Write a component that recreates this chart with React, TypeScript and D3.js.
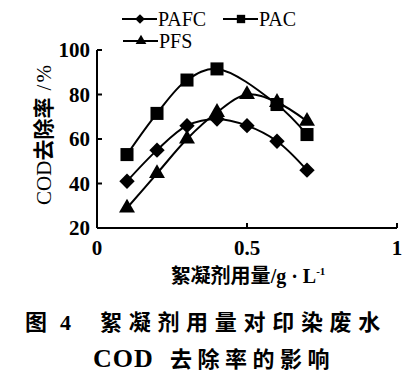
import * as d3 from 'd3';
import { useRef, useEffect } from 'react';

const doses = [0.1, 0.2, 0.3, 0.4, 0.5, 0.6, 0.7];
const pafc = [41, 55, 66, 69, 66, 59, 46];
const pac = [53, 71.5, 86.5, 91.5, null, 75.5, 62];
const pfs = [29, 44.5, 60, 72, 80, 76.5, 68];
const xTicks = [0, 0.5, 1];
const xTickLabels = ['0', '0.5', '1'];
const yTicks = [20, 40, 60, 80, 100];

const serif = '"Liberation Serif", "DejaVu Serif", serif';
const cjk = '"Noto Sans CJK SC", sans-serif';

function App() {
    const svgRef = useRef<SVGSVGElement>(null);

    useEffect(() => {
        const svg = d3.select(svgRef.current);
        svg.selectAll('*').remove();

        const x = d3.scaleLinear().domain([0, 1]).range([97, 397]);
        const y = d3.scaleLinear().domain([20, 100]).range([228, 50]);

        // axes
        const g = svg.append('g').attr('stroke', '#000').attr('stroke-width', 2);
        g.append('line').attr('x1', x(0)).attr('x2', x(1)).attr('y1', y(20)).attr('y2', y(20));
        g.append('line').attr('x1', x(0)).attr('x2', x(0)).attr('y1', y(20)).attr('y2', y(100));
        yTicks.forEach(t => {
            g.append('line').attr('x1', x(0)).attr('x2', x(0) + 5).attr('y1', y(t)).attr('y2', y(t));
        });
        xTicks.forEach(t => {
            g.append('line').attr('x1', x(t)).attr('x2', x(t)).attr('y1', y(20)).attr('y2', y(20) - 5);
        });

        yTicks.forEach(t => {
            svg.append('text')
                .attr('x', 90).attr('y', y(t) + 7)
                .attr('text-anchor', 'end')
                .attr('font-family', serif).attr('font-size', 21).attr('font-weight', 'bold')
                .text(t);
        });
        xTicks.forEach((t, i) => {
            svg.append('text')
                .attr('x', x(t)).attr('y', 255)
                .attr('text-anchor', 'middle')
                .attr('font-family', serif).attr('font-size', 21).attr('font-weight', 'bold')
                .text(xTickLabels[i]);
        });

        // axis titles
        const yl = svg.append('text')
            .attr('transform', `translate(51,134) rotate(-90)`)
            .attr('text-anchor', 'middle')
            .attr('font-size', 21);
        yl.append('tspan').attr('font-family', serif).text('COD');
        yl.append('tspan').attr('font-family', cjk).attr('font-weight', 'bold').text('去除率');
        yl.append('tspan').attr('font-family', serif).attr('letter-spacing', 2).text(' /%');

        const xl = svg.append('text')
            .attr('x', 248).attr('y', 283)
            .attr('text-anchor', 'middle')
            .attr('font-size', 20).attr('font-weight', 'bold');
        xl.append('tspan').attr('font-family', cjk).text('絮凝剂用量');
        xl.append('tspan').attr('font-family', serif).text('/g · L');
        xl.append('tspan').attr('font-family', serif).attr('dy', -8).attr('font-size', 11).text('-1');

        // series
        const line = d3.line<[number, number]>()
            .x(d => x(d[0])).y(d => y(d[1]))
            .curve(d3.curveCatmullRom.alpha(0.5));

        const series = [
            { name: 'PAFC', values: pafc, shape: d3.symbolDiamond2, size: 150 },
            { name: 'PAC', values: pac, shape: d3.symbolSquare, size: 170 },
            { name: 'PFS', values: pfs, shape: d3.symbolTriangle, size: 110 },
        ];

        series.forEach(s => {
            const pts = doses.map((d, i) => [d, s.values[i]] as [number, number])
                .filter(p => p[1] != null);
            svg.append('path')
                .attr('d', line(pts))
                .attr('fill', 'none').attr('stroke', '#000').attr('stroke-width', 2);
            svg.selectAll(null).data(pts).enter().append('path')
                .attr('transform', d => `translate(${x(d[0])},${y(d[1])})`)
                .attr('d', d3.symbol(s.shape, s.size)())
                .attr('fill', '#000');
        });

        // legend
        const legend = [
            { name: 'PAFC', shape: d3.symbolDiamond2, size: 60, x: 122, y: 19 },
            { name: 'PAC', shape: d3.symbolSquare, size: 70, x: 223, y: 19 },
            { name: 'PFS', shape: d3.symbolTriangle, size: 50, x: 123, y: 41 },
        ];
        legend.forEach(l => {
            svg.append('line')
                .attr('x1', l.x).attr('x2', l.x + 35).attr('y1', l.y).attr('y2', l.y)
                .attr('stroke', '#000').attr('stroke-width', 2);
            svg.append('path')
                .attr('transform', `translate(${l.x + 18},${l.y})`)
                .attr('d', d3.symbol(l.shape, l.size)())
                .attr('fill', '#000');
            svg.append('text')
                .attr('x', l.x + 36).attr('y', l.y + 7)
                .attr('font-family', serif).attr('font-size', 20)
                .text(l.name);
        });

        // caption
        const c1 = svg.append('text')
            .attr('x', 25).attr('y', 330)
            .attr('font-size', 22).attr('font-weight', 'bold');
        c1.append('tspan').attr('font-family', cjk).text('图');
        c1.append('tspan').attr('font-family', serif).attr('x', 60).text('4');
        svg.append('text')
            .attr('x', 100).attr('y', 330)
            .attr('font-family', cjk).attr('font-size', 22).attr('font-weight', 'bold')
            .attr('letter-spacing', 6.7)
            .text('絮凝剂用量对印染废水');
        const c2 = svg.append('text')
            .attr('x', 93).attr('y', 367)
            .attr('font-size', 22).attr('font-weight', 'bold');
        c2.append('tspan').attr('font-family', serif).attr('font-size', 26).attr('letter-spacing', 1).text('COD');
        c2.append('tspan').attr('font-family', cjk).attr('x', 170).attr('letter-spacing', 5.5).text('去除率的影响');
    }, []);

    return (
        <svg ref={svgRef} width={407} height={391}
            style={{ position: 'fixed', left: 0, top: 0, background: '#fff' }} />
    );
}

export default App;
